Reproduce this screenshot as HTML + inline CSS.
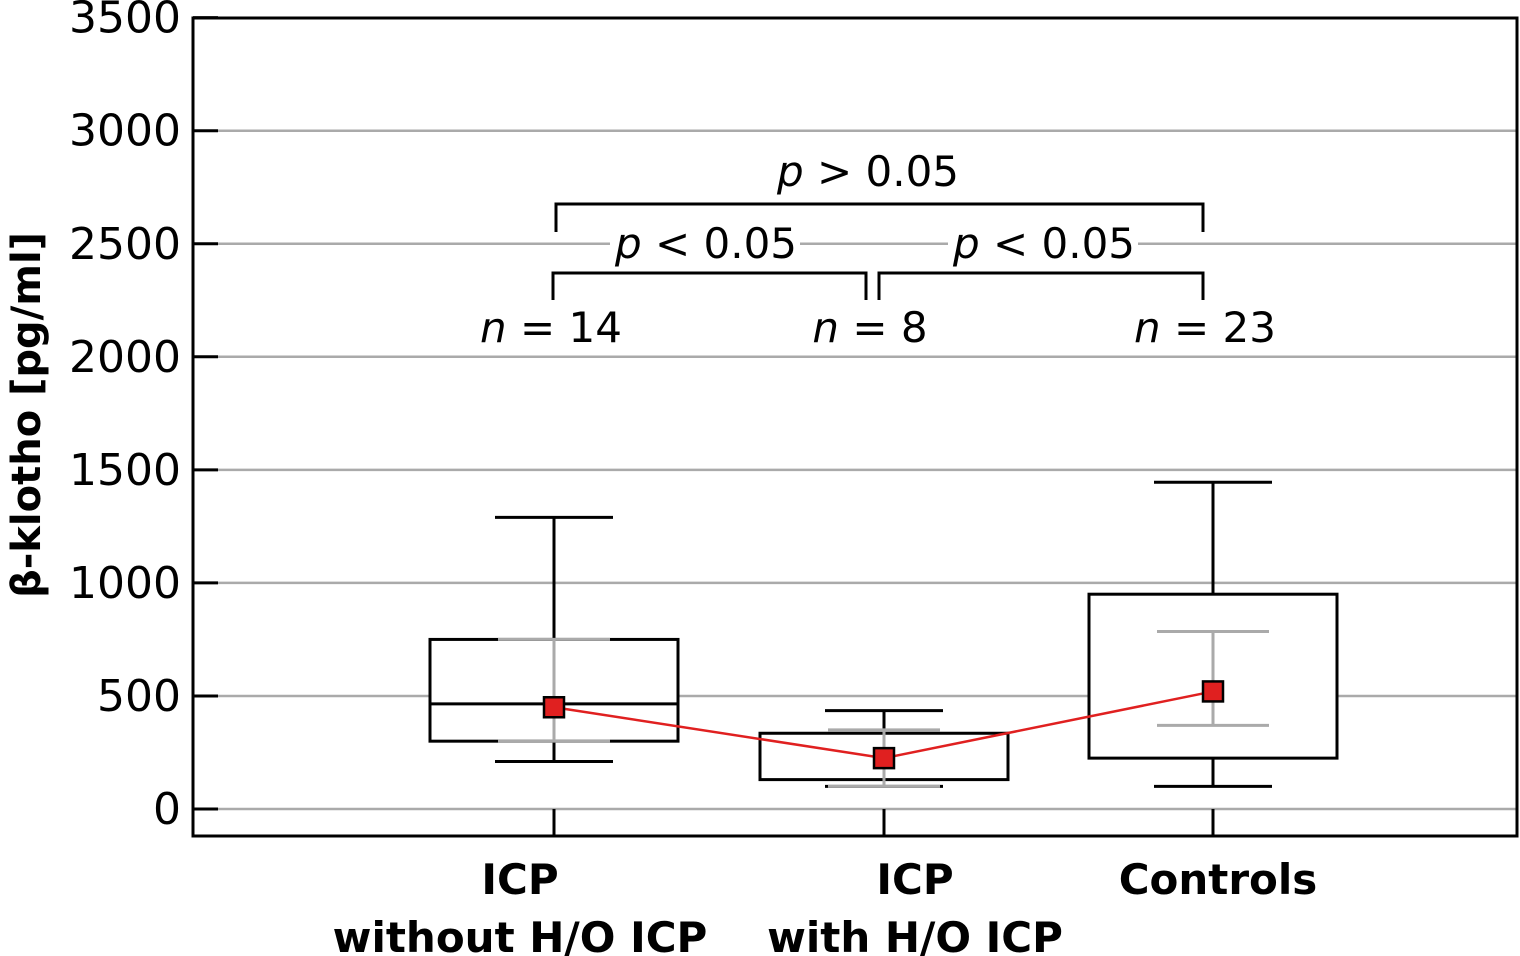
<!DOCTYPE html>
<html><head><meta charset="utf-8"><style>
body{margin:0;background:#fff}
svg{display:block;font-family:"DejaVu Sans","Liberation Sans",sans-serif}
</style></head><body>
<svg width="1520" height="956" viewBox="0 0 1520 956">
<g id="grid"></g>
<g id="boxes"></g>
<g id="ann">
<path d="M556 232 V204 H1203 V232" fill="none" stroke="#000" stroke-width="3"/>
<text x="868" y="186" font-size="42" text-anchor="middle"><tspan font-style="italic">p</tspan> &gt; 0.05</text>
<path d="M553 300 V273 H866 V300 M879 300 V273 H1203 V300" fill="none" stroke="#000" stroke-width="3"/>
<rect x="610" y="222" width="190" height="40" fill="#fff"/>
<rect x="948" y="222" width="190" height="40" fill="#fff"/>
<text x="706" y="258" font-size="42" text-anchor="middle"><tspan font-style="italic">p</tspan> &lt; 0.05</text>
<text x="1044" y="258" font-size="42" text-anchor="middle"><tspan font-style="italic">p</tspan> &lt; 0.05</text>
<text x="551" y="342" font-size="42" text-anchor="middle"><tspan font-style="italic">n</tspan> = 14</text>
<text x="870" y="342" font-size="42" text-anchor="middle"><tspan font-style="italic">n</tspan> = 8</text>
<text x="1205" y="342" font-size="42" text-anchor="middle"><tspan font-style="italic">n</tspan> = 23</text>
</g>
<rect x="193" y="18" width="1324" height="818" fill="none" stroke="#000" stroke-width="3"/>
<text transform="translate(40,415) rotate(-90)" font-size="40" font-weight="bold" text-anchor="middle">β-klotho [pg/ml]</text>
<g font-size="42" font-weight="bold" text-anchor="middle">
<text x="520" y="894">ICP</text><text x="520" y="952">without H/O ICP</text>
<text x="915" y="894">ICP</text><text x="915" y="952">with H/O ICP</text>
<text x="1218" y="894">Controls</text>
</g>
</svg>
<script>
const ticks=[0,500,1000,1500,2000,2500,3000,3500];
const cats=["ICP without H/O ICP","ICP with H/O ICP","Controls"];
const wLo=[210,100,100];
const q1=[300,130,225];
const med=[465,null,null];
const q3=[750,335,950];
const wHi=[1290,435,1445];
const ciLo=[300,100,370];
const ciHi=[750,350,785];
const means=[450,225,520];
const NS="http://www.w3.org/2000/svg";
const y=v=>809-v*0.2261;
const xc=i=>[554,884,1213][i];
function mk(t,a,p){const e=document.createElementNS(NS,t);for(const k in a)e.setAttribute(k,a[k]);p.appendChild(e);return e;}
const g=document.getElementById('grid');
ticks.forEach(t=>{
 if(t<3500){const l=mk('line',{x1:218,x2:1517,y1:y(t),y2:y(t),stroke:'#aaa','stroke-width':2.5},g);
 
 }
 mk('line',{x1:193,x2:218,y1:y(t),y2:y(t),stroke:'#000','stroke-width':3},g);
 const tx=mk('text',{x:181,y:y(t)+15,'font-size':44,'text-anchor':'end'},g);tx.textContent=t;
 
 
});
const b=document.getElementById('boxes');
cats.forEach((c,i)=>{
 const x=xc(i);
 mk('line',{x1:x,x2:x,y1:809,y2:836,stroke:'#000','stroke-width':3},b);
 mk('line',{x1:x,x2:x,y1:y(wHi[i]),y2:y(wLo[i]),stroke:'#000','stroke-width':3},b);
 [wHi[i],wLo[i]].forEach(v=>mk('line',{x1:x-59,x2:x+59,y1:y(v),y2:y(v),stroke:'#000','stroke-width':3},b));
 const r=mk('rect',{x:x-124,y:y(q3[i]),width:248,height:y(q1[i])-y(q3[i]),fill:'#fff',stroke:'#000','stroke-width':3},b);
 
 
 if(med[i]!==null)mk('line',{x1:x-124,x2:x+124,y1:y(med[i]),y2:y(med[i]),stroke:'#000','stroke-width':3},b);
 mk('line',{x1:x,x2:x,y1:y(ciHi[i]),y2:y(ciLo[i]),stroke:'#aaa','stroke-width':3},b);
 [ciHi[i],ciLo[i]].forEach(v=>mk('line',{x1:x-56,x2:x+56,y1:y(v),y2:y(v),stroke:'#aaa','stroke-width':3},b));
});
const pts=means.map((m,i)=>xc(i)+','+y(m)).join(' ');
const pl=mk('polyline',{points:pts,fill:'none',stroke:'#e02020','stroke-width':2.5},b);


means.forEach((m,i)=>{
 const s=mk('rect',{x:xc(i)-10,y:y(m)-10,width:20,height:20,fill:'#e02020',stroke:'#000','stroke-width':2.5},b);
 
 
});
</script>
</body></html>
